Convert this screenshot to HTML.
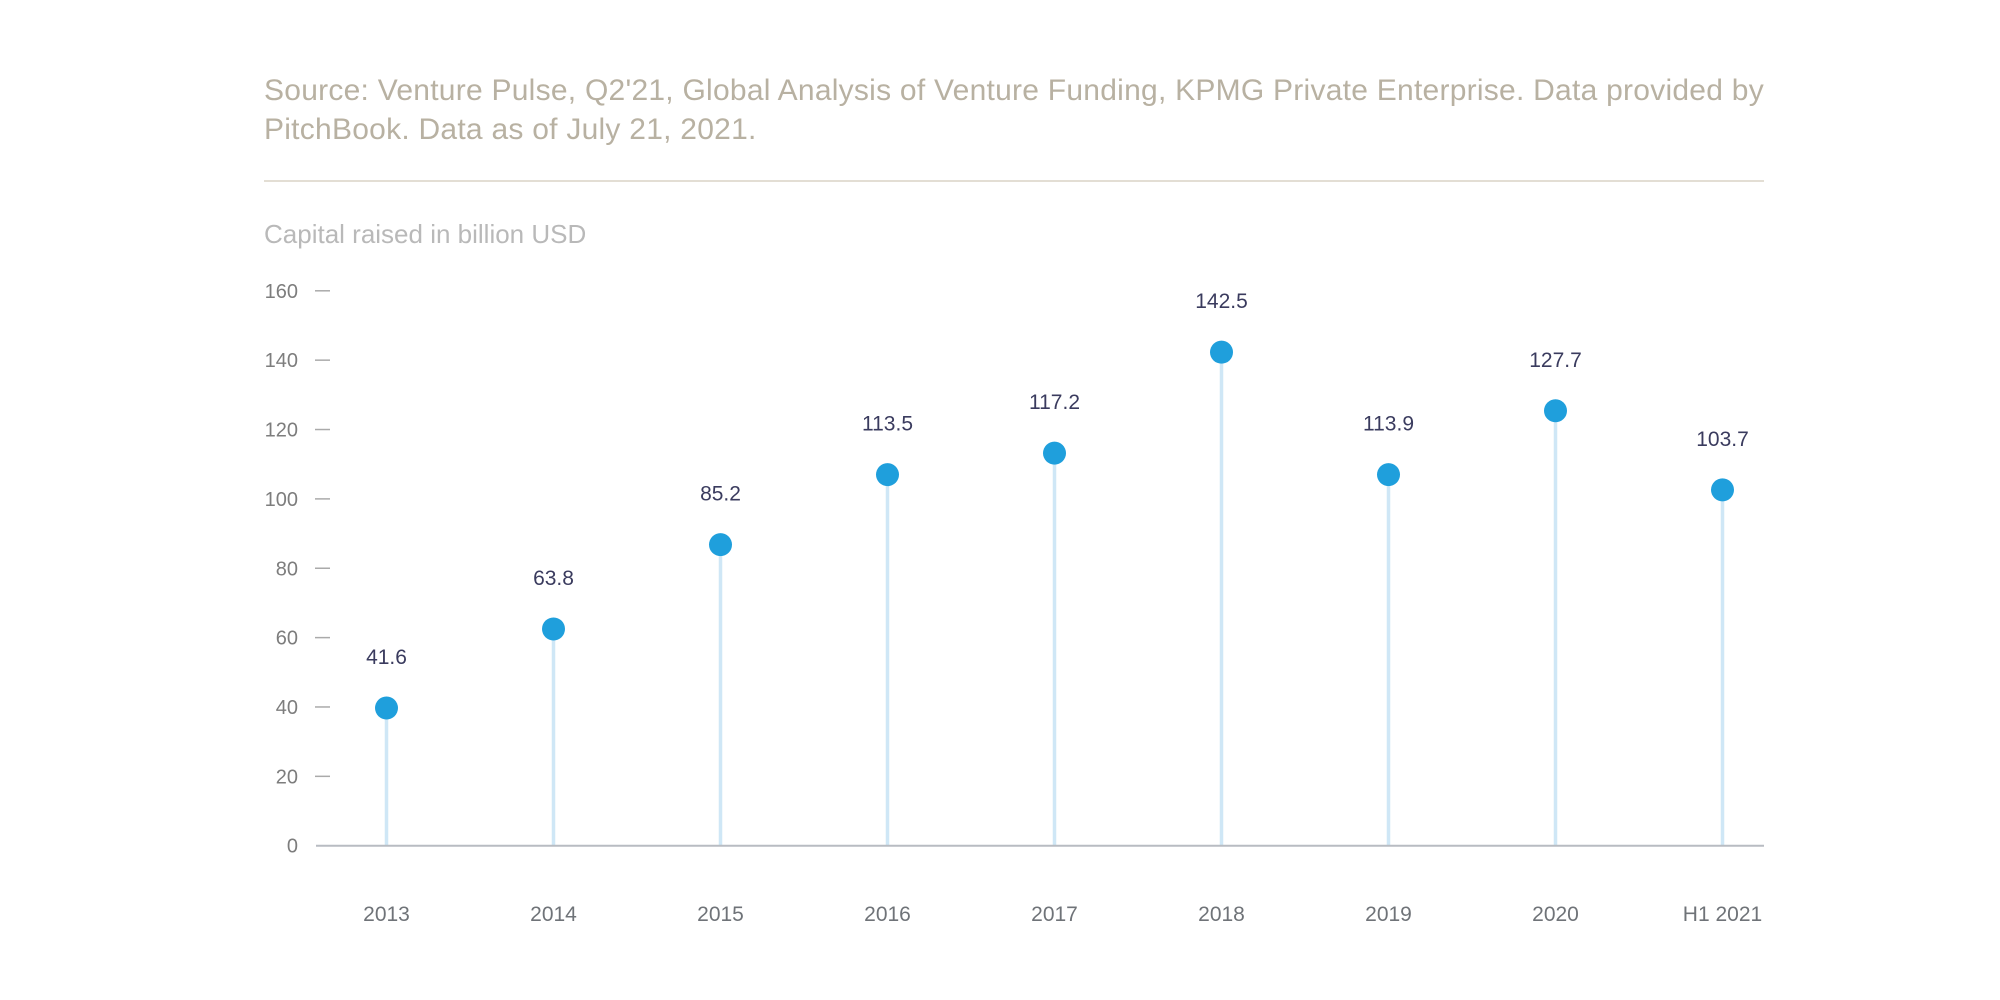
<!DOCTYPE html>
<html><head><meta charset="utf-8"><style>
html,body{margin:0;padding:0;background:#fff;width:2000px;height:1000px;overflow:hidden;font-family:"Liberation Sans",sans-serif;}
.src{position:absolute;left:264px;top:71px;font-size:30px;letter-spacing:0.25px;line-height:39px;color:#b8b1a2;white-space:nowrap;}
</style></head><body>
<div class="src">Source: Venture Pulse, Q2'21, Global Analysis of Venture Funding, KPMG Private Enterprise. Data provided by<br>PitchBook. Data as of July 21, 2021.</div>
<svg id="chart" width="2000" height="1000" style="position:absolute;left:0;top:0">
<defs><clipPath id="clip"><rect x="263" y="0" width="1737" height="1000"/></clipPath></defs>
<line x1="264" x2="1764" y1="181" y2="181" stroke="#e3ded4" stroke-width="2"/>
<text x="264" y="243" font-size="26" fill="#b9b9b9">Capital raised in billion USD</text>
<g id="ticks" clip-path="url(#clip)"></g>
<g id="marks"></g>
</svg>
<script>
const categories = ["2013","2014","2015","2016","2017","2018","2019","2020","H1 2021"];
const values = [39.7, 62.5, 86.8, 107, 113.2, 142.3, 107, 125.4, 102.6];
const valueLabels = ["41.6","63.8","85.2","113.5","117.2","142.5","113.9","127.7","103.7"];
const yTicks = [0,20,40,60,80,100,120,140,160];

const NS = "http://www.w3.org/2000/svg";
const y0 = 845.7, y160 = 290.8;
function yScale(v){ return y0 - (v/160)*(y0 - y160); }
function xScale(i){ return 386.5 + i*167; }
function mk(tag, attrs, parent){ const e=document.createElementNS(NS,tag); for(const k in attrs) e.setAttribute(k,attrs[k]); parent.appendChild(e); return e; }

const ticksG = document.getElementById('ticks');
const marksG = document.getElementById('marks');

yTicks.forEach(t=>{
  const y = yScale(t);
  const lab = mk('text',{x:298,y:y+7,'font-size':20,fill:'#7d7d7d','text-anchor':'end'},ticksG);
  lab.textContent = t;
  
  
  if(t>0){
    const d = mk('line',{x1:315,x2:330,y1:y,y2:y,stroke:'#aaaaaa','stroke-width':1.5},ticksG);
    
    
  }
});

categories.forEach((c,i)=>{
  const x = xScale(i), y = yScale(values[i]);
  const stem = mk('line',{x1:x,x2:x,y1:y,y2:y0,stroke:'#cfe7f6','stroke-width':3.5},marksG);
  
  
});

const axis = mk('line',{x1:316,x2:1764,y1:y0,y2:y0,stroke:'#b8bcc2','stroke-width':2},marksG);



categories.forEach((c,i)=>{
  const x = xScale(i), y = yScale(values[i]);
  const dot = mk('circle',{cx:x,cy:y,r:11.5,fill:'#1f9fdc'},marksG);
  
  
  const vl = mk('text',{x:x,y:y-44,'font-size':21,fill:'#3a3b5e','text-anchor':'middle'},marksG);
  vl.textContent = valueLabels[i];
  
  
  const xl = mk('text',{x:x,y:921,'font-size':21,fill:'#6f7378','text-anchor':'middle'},marksG);
  xl.textContent = c;
  
  
});
</script>
</body></html>
